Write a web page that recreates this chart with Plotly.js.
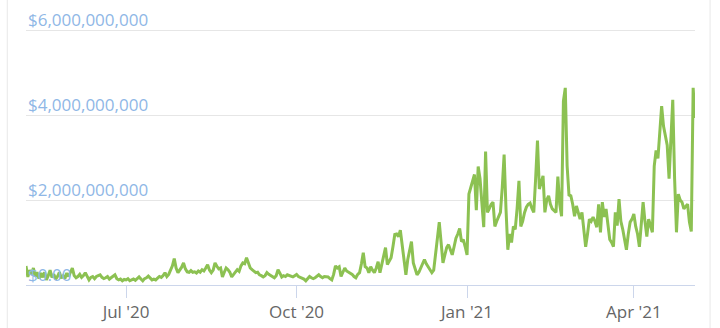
<!DOCTYPE html>
<html>
<head>
<meta charset="utf-8">
<script src="https://cdn.plot.ly/plotly-3.0.1.min.js"></script>
<style>
html,body{margin:0;padding:0;background:#fff;}
#chart{width:720px;height:328px;}
</style>
</head>
<body>
<div id="chart"></div>
<script>
// Daily volume (in billions of USD), starting 2020-05-08
const startDate = '2020-05-08';
const valuesB = [
0.45,0.19,0.35,0.25,0.4,0.2,0.3,0.15,0.28,0.18,
0.3,0.12,0.22,0.35,0.18,0.25,0.14,0.2,0.3,0.16,
0.22,0.15,0.28,0.2,0.3,0.4,0.22,0.17,0.2,0.25,
0.18,0.22,0.29,0.2,0.12,0.18,0.2,0.15,0.2,0.22,
0.24,0.18,0.15,0.17,0.2,0.14,0.18,0.22,0.24,0.15,
0.12,0.14,0.1,0.13,0.12,0.15,0.1,0.12,0.14,0.11,
0.15,0.19,0.14,0.1,0.15,0.17,0.21,0.16,0.12,0.14,
0.12,0.16,0.2,0.18,0.22,0.29,0.2,0.25,0.35,0.45,
0.62,0.4,0.29,0.35,0.42,0.52,0.38,0.31,0.3,0.34,
0.3,0.31,0.28,0.33,0.3,0.36,0.33,0.4,0.48,0.35,
0.29,0.35,0.52,0.44,0.38,0.4,0.19,0.3,0.4,0.36,
0.3,0.19,0.25,0.3,0.36,0.32,0.45,0.52,0.5,0.64,
0.5,0.4,0.36,0.33,0.29,0.3,0.24,0.22,0.19,0.22,
0.29,0.25,0.22,0.2,0.17,0.22,0.36,0.28,0.19,0.22,
0.2,0.24,0.22,0.2,0.19,0.22,0.25,0.2,0.18,0.17,
0.14,0.1,0.15,0.2,0.17,0.15,0.17,0.2,0.24,0.2,
0.17,0.2,0.19,0.19,0.15,0.12,0.25,0.45,0.4,0.43,
0.2,0.3,0.4,0.33,0.3,0.29,0.25,0.2,0.17,0.25,
0.29,0.5,0.76,0.43,0.4,0.29,0.43,0.35,0.29,0.4,
0.55,0.29,0.5,0.75,0.88,0.48,0.55,0.64,0.9,1.19,
1.2,1.14,1.29,0.9,0.5,0.24,0.6,0.85,1.02,0.52,
0.35,0.24,0.3,0.4,0.5,0.6,0.5,0.43,0.38,0.29,
0.35,0.67,1.1,1.48,0.9,0.52,0.7,0.88,0.95,0.8,
0.71,0.9,1.1,1.2,1.33,1.02,1.07,0.9,0.71,2.14,
2.3,2.5,2.6,1.76,2.79,2.5,1.9,1.36,3.14,1.71,
1.8,1.9,1.95,1.38,1.5,1.6,1.71,2.3,3.07,1.8,
0.83,1.2,1.0,1.38,1.31,1.8,2.45,1.38,1.5,1.7,
1.83,1.9,1.93,1.8,1.71,2.5,3.4,2.26,2.4,2.57,
1.71,2.0,2.1,1.9,1.79,1.75,1.71,2.55,1.9,1.62,
4.33,4.64,2.8,2.12,2.1,1.9,1.62,1.86,1.7,1.55,
1.71,1.3,0.9,1.2,1.55,1.5,1.6,1.5,1.36,1.9,
1.24,1.95,1.6,1.79,1.4,1.07,1.0,0.9,1.71,1.4,
2.02,1.5,1.31,1.1,0.83,1.2,1.48,1.55,1.67,1.38,
1.2,0.9,1.4,1.95,1.5,1.14,1.55,1.4,1.24,2.8,
3.17,2.98,3.6,4.21,3.74,3.5,3.29,2.5,3.4,4.36,
2.5,1.24,2.14,2.0,1.95,1.79,1.85,1.9,1.48,1.26,
4.64,3.93
];
const xTickVals = ['2020-07-01','2020-10-01','2021-01-01','2021-04-01'];
const xTickText = ["Jul '20","Oct '20","Jan '21","Apr '21"];
const yTickVals = [0, 2e9, 4e9, 6e9];
const yTickText = ['$0.00','$2,000,000,000','$4,000,000,000','$6,000,000,000'];

function addDays(iso, n){
  const d = new Date(iso + 'T00:00:00Z');
  d.setUTCDate(d.getUTCDate() + n);
  return d.toISOString().slice(0,10);
}
const dates = valuesB.map((v,i)=>addDays(startDate,i));
const values = valuesB.map(v=>v*1e9);

const trace = {
  x: dates, y: values, type:'scatter', mode:'lines',
  line:{color:'#8cc152', width:3},
  hoverinfo:'skip'
};

const yLabelAnnotations = yTickVals.map((v,i)=>({
  xref:'paper', yref:'y', x:0, y:v,
  xanchor:'left', yanchor:'bottom', yshift:-3,
  text:yTickText[i], showarrow:false,
  font:{size:17, color:'#8fb7e6', family:'"Open Sans", sans-serif'}
}));

const layout = {
  width:720, height:328,
  margin:{l:26, r:25, t:22, b:43},
  paper_bgcolor:'#ffffff', plot_bgcolor:'#ffffff',
  showlegend:false,
  font:{family:'"Open Sans", sans-serif'},
  xaxis:{
    type:'date',
    range:[dates[0], dates[dates.length-1]],
    tickvals:xTickVals, ticktext:xTickText,
    ticks:'outside', ticklen:12, tickcolor:'#ccd6eb', tickwidth:1,
    showline:true, linecolor:'#ccd6eb', linewidth:1,
    showgrid:false, zeroline:false,
    tickfont:{size:17, color:'#666666', family:'"Open Sans", sans-serif'}
  },
  yaxis:{
    range:[0, 6.19e9],
    tickvals:yTickVals,
    showticklabels:false, ticks:'',
    showgrid:true, gridcolor:'#e6e6e6', gridwidth:1,
    zeroline:false, showline:false
  },
  annotations: yLabelAnnotations,
  shapes:[
    {type:'line', xref:'paper', yref:'paper', x0:-0.028, x1:-0.028, y0:-0.2, y1:1.2, line:{color:'#e8e8e8', width:1}},
    {type:'line', xref:'paper', yref:'paper', x0:1.0225, x1:1.0225, y0:-0.2, y1:1.2, line:{color:'#e8e8e8', width:1}}
  ]
};

Plotly.newPlot('chart', [trace], layout, {staticPlot:true, displayModeBar:false});
</script>
</body>
</html>
